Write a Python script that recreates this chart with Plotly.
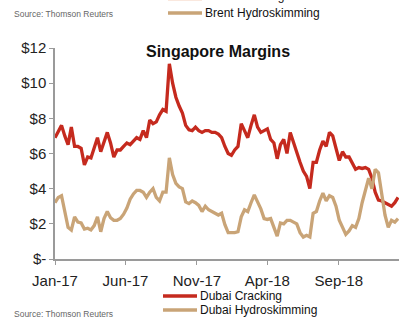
import pandas as pd
import plotly.graph_objects as go

# Weekly observations, Jan 2017 - Jan 2019
dates = pd.date_range("2017-01-01", periods=106, freq="7D")

dubai_cracking = [
    6.9, 7.3, 7.6, 7.0, 6.5, 7.5, 6.4, 6.4, 6.3, 5.35,
    5.8, 5.75, 6.3, 6.9, 6.1, 6.6, 7.2, 6.6, 5.8, 6.2,
    6.2, 6.4, 6.6, 6.5, 6.7, 6.9, 6.8, 7.3, 6.9, 7.9,
    7.7, 7.8, 8.2, 8.5, 8.4, 11.1, 10.0, 9.2, 8.7, 8.3,
    7.6, 7.35, 7.3, 7.5, 7.3, 7.2, 7.3, 7.3, 7.2, 7.2,
    7.1, 6.9, 6.4, 6.0, 5.9, 6.2, 6.4, 7.7, 7.3, 6.9,
    7.6, 8.2, 7.5, 7.2, 7.3, 7.4, 6.8, 6.6, 5.7, 6.5,
    6.8, 6.0, 7.2, 6.6, 6.1, 5.5, 5.0, 4.7, 4.0, 5.5,
    5.5, 6.2, 6.7, 6.4, 7.2, 7.0, 6.3, 5.6, 6.1, 5.8,
    5.8, 5.4, 5.1, 5.2, 5.15, 5.2, 5.1, 4.6, 3.8, 3.35,
    3.3, 3.2, 3.1, 3.0, 3.2, 3.5,
]

dubai_hydroskimming = [
    3.2, 3.5, 3.6, 2.7, 1.8, 1.65, 2.4, 2.1, 2.05, 1.7,
    1.75, 1.65, 1.9, 2.4, 1.55, 2.3, 2.7, 2.35, 2.2, 2.2,
    2.3, 2.55, 2.9, 3.4, 3.7, 3.9, 3.9, 3.8, 3.5, 3.8,
    4.0, 3.5, 3.3, 3.8, 3.8, 5.75, 4.8, 4.3, 4.1, 4.0,
    3.25, 3.15, 3.3, 3.2, 3.05, 2.7, 3.0, 2.8, 2.7, 2.65,
    2.5, 2.6, 1.95, 1.5, 1.5, 1.5, 1.55, 2.4, 2.8, 2.7,
    3.2, 3.65, 3.25, 2.85, 2.3, 2.25, 2.3, 1.8, 1.3, 2.05,
    2.0, 2.2, 2.2, 2.1, 2.0, 1.5, 1.25, 1.35, 1.25, 2.6,
    2.7, 3.3, 3.75, 3.3, 3.6, 3.5, 3.0, 2.2, 1.85, 1.4,
    1.6, 1.9, 1.8, 2.3, 3.2, 4.0, 4.6, 4.0, 5.1, 4.9,
    3.8, 2.5, 1.8, 2.2, 2.1, 2.3,
]

tick_dates = ["2017-01-01", "2017-06-01", "2017-11-01", "2018-04-01", "2018-09-01"]
tick_labels = ["Jan-17", "Jun-17", "Nov-17", "Apr-18", "Sep-18"]
y_ticks = [0, 2, 4, 6, 8, 10, 12]
y_labels = ["$-", "$2", "$4", "$6", "$8", "$10", "$12"]

series_names = ["Dubai Cracking", "Dubai Hydroskimming"]
# cropped legend of the neighbouring chart above
brent_names = ["Brent Cracking", "Brent Hydroskimming"]

RED = "#C52A1E"
TAN = "#C9A477"
BRENT_CRACK = "#E9A47C"
FONT = "Liberation Sans, Arial, sans-serif"

fig = go.Figure()
for name, vals, color in zip(series_names, [dubai_cracking, dubai_hydroskimming], [RED, TAN]):
    fig.add_trace(go.Scatter(x=dates, y=vals, mode="lines", name=name,
                             line=dict(color=color, width=3.3), showlegend=False))


# pixel -> paper helpers (plot area x 55..399, y 48..259)
def px(x):
    return (x - 55) / 344.0


def py(y):
    return (259 - y) / 211.0


shapes = []
annotations = [
    dict(text="<b>Singapore Margins</b>", x=px(218), y=py(52), xref="paper", yref="paper",
         showarrow=False, xanchor="center", yanchor="middle",
         font=dict(family=FONT, size=16, color="#111")),
    dict(text="Source: Thomson Reuters", x=px(12), y=py(14), xref="paper", yref="paper",
         showarrow=False, xanchor="left", yanchor="middle",
         font=dict(family=FONT, size=8.5, color="#666")),
    dict(text="Source: Thomson Reuters", x=px(12), y=py(314), xref="paper", yref="paper",
         showarrow=False, xanchor="left", yanchor="middle",
         font=dict(family=FONT, size=8.5, color="#666")),
]


def legend_item(name, color, x_line, y_line, y_text):
    shapes.append(dict(type="line", xref="paper", yref="paper", x0=px(x_line), x1=px(x_line + 34),
                       y0=py(y_line), y1=py(y_line), line=dict(color=color, width=3.3)))
    annotations.append(dict(text=name, x=px(x_line + 35), y=py(y_text), xref="paper", yref="paper",
                            showarrow=False, xanchor="left", yanchor="middle",
                            font=dict(family=FONT, size=12, color="#111")))


# legend of the neighbouring chart (cut by the top edge, as in the source image)
legend_item(brent_names[0], BRENT_CRACK, 168, -1.5, -4)
legend_item(brent_names[1], TAN, 168, 13, 13)
# legend of this chart
legend_item(series_names[0], RED, 163, 296, 296)
legend_item(series_names[1], TAN, 163, 310, 310)

fig.update_layout(
    width=399, height=320,
    margin=dict(l=55, r=0, t=48, b=61),
    paper_bgcolor="white", plot_bgcolor="white",
    showlegend=False,
    xaxis=dict(type="date", range=["2017-01-01", "2019-01-08"], tickvals=tick_dates,
               ticktext=tick_labels, showgrid=False, zeroline=False, showline=True,
               linecolor="#9a9a9a", linewidth=1.5, ticks="outside", ticklen=4,
               tickcolor="#9a9a9a", ticklabelstandoff=3,
               tickfont=dict(family=FONT, size=15, color="#222")),
    yaxis=dict(range=[0, 12], tickvals=y_ticks, ticktext=y_labels, showgrid=False,
               zeroline=False, showline=True, linecolor="#9a9a9a", linewidth=1.5,
               ticks="outside", ticklen=4, tickcolor="#9a9a9a",
               tickfont=dict(family=FONT, size=15, color="#222")),
    shapes=shapes,
    annotations=annotations,
)

fig.write_html("out.html")
